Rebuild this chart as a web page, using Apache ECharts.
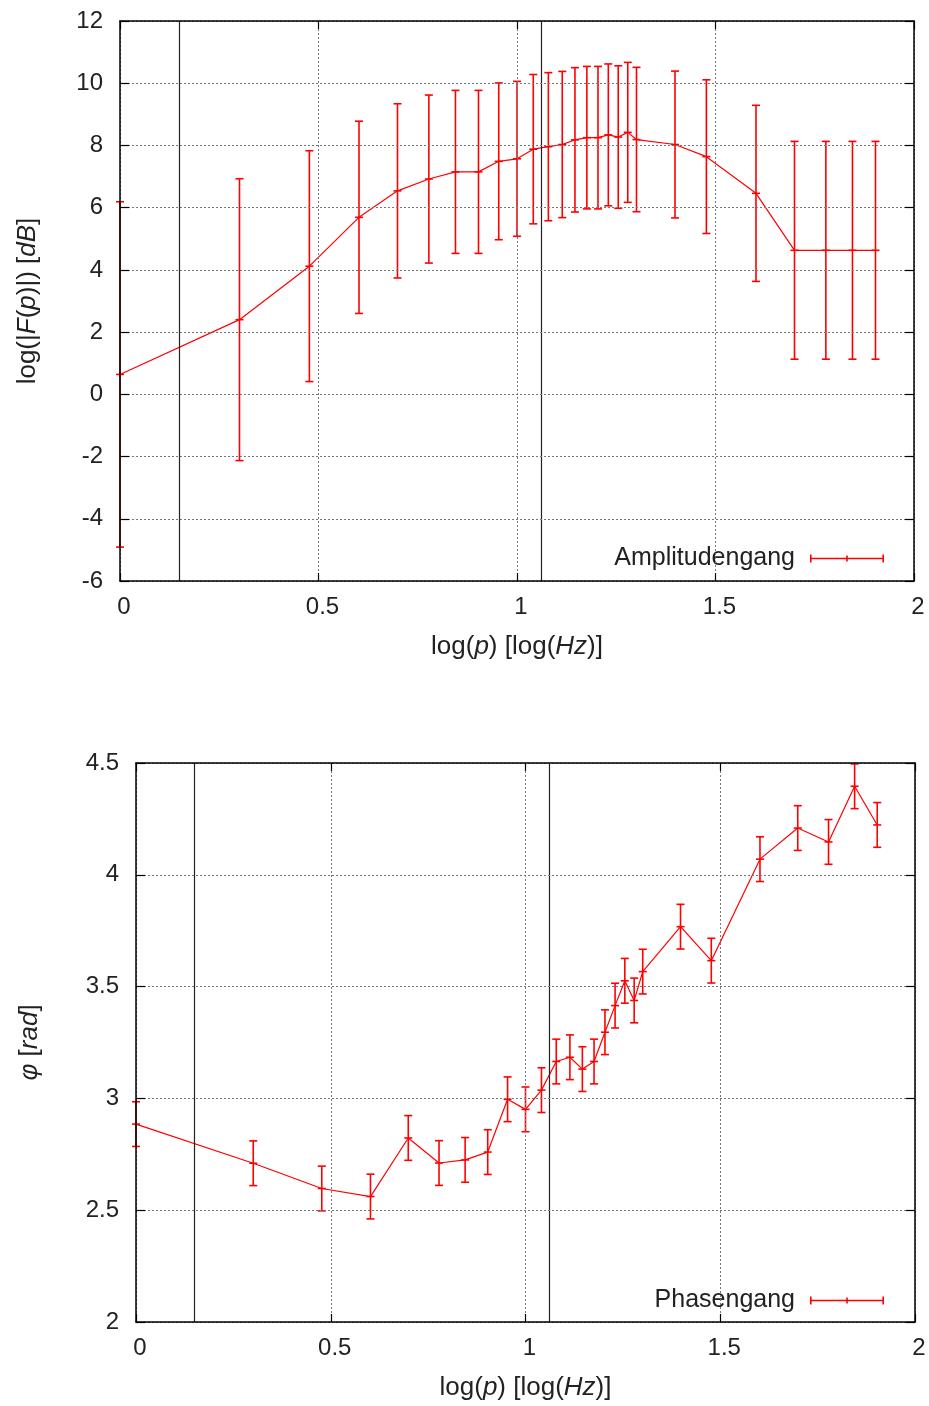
<!DOCTYPE html>
<html>
<head>
<meta charset="utf-8">
<script src="https://cdn.jsdelivr.net/npm/echarts@6/dist/echarts.min.js"></script>
<style>
html, body { margin: 0; padding: 0; background: #fff; }
#chart { width: 929px; height: 1406px; }
</style>
</head>
<body>
<div id="chart"></div>
<script>
// log(p) der Messpunkte
var logFreq = [0, 0.301, 0.477, 0.602, 0.699, 0.778, 0.845, 0.903, 0.954, 1.0,
  1.041, 1.079, 1.114, 1.146, 1.176, 1.204, 1.230, 1.255, 1.279, 1.301,
  1.398, 1.477, 1.602, 1.699, 1.778, 1.845, 1.903];

// Amplitudengang [dB] und Fehler
var ampMean = [0.64, 2.40, 4.12, 5.69, 6.54, 6.92, 7.15, 7.15, 7.49, 7.57,
  7.88, 7.96, 8.03, 8.18, 8.25, 8.25, 8.34, 8.27, 8.42, 8.19,
  8.03, 7.64, 6.46, 4.63, 4.63, 4.63, 4.63];
var ampErr = [5.55, 4.53, 3.71, 3.09, 2.80, 2.70, 2.62, 2.62, 2.52, 2.49,
  2.40, 2.38, 2.35, 2.32, 2.29, 2.29, 2.28, 2.29, 2.25, 2.32,
  2.36, 2.47, 2.83, 3.50, 3.50, 3.50, 3.50];

// Phasengang [rad] und Fehler
var phaseMean = [2.885, 2.71, 2.597, 2.561, 2.823, 2.711, 2.725, 2.76, 2.996, 2.951,
  3.037, 3.165, 3.184, 3.131, 3.165, 3.296, 3.415, 3.526, 3.438, 3.567,
  3.768, 3.616, 4.07, 4.209, 4.147, 4.396, 4.223];
var phaseErr = [0.1, 0.1, 0.1, 0.1, 0.1, 0.1, 0.1, 0.1, 0.1, 0.1,
  0.1, 0.1, 0.1, 0.1, 0.1, 0.1, 0.1, 0.1, 0.1, 0.1,
  0.1, 0.1, 0.1, 0.1, 0.1, 0.1, 0.1];

// senkrechte Linien (Grenzfrequenzen)
var cutoffs = [0.148, 1.059];

var FONT = '"Liberation Sans", Arial, sans-serif';
var TXT = '#222';
var RED = '#ff0000';

var chart = echarts.init(document.getElementById('chart'));

// Fehlerbalken mit Kappen und "+" am Messpunkt
function renderErr(params, api) {
  var x = api.value(0), y = api.value(1), e = api.value(2);
  var hi = api.coord([x, y + e]);
  var lo = api.coord([x, y - e]);
  var c = api.coord([x, y]);
  var s = { stroke: RED, lineWidth: 1.6 };
  var w = 4;
  return {
    type: 'group',
    children: [
      { type: 'line', shape: { x1: hi[0], y1: hi[1], x2: lo[0], y2: lo[1] }, style: s },
      { type: 'line', shape: { x1: hi[0] - w, y1: hi[1], x2: hi[0] + w, y2: hi[1] }, style: s },
      { type: 'line', shape: { x1: lo[0] - w, y1: lo[1], x2: lo[0] + w, y2: lo[1] }, style: s },
      { type: 'line', shape: { x1: c[0] - w, y1: c[1], x2: c[0] + w, y2: c[1] }, style: s }
    ]
  };
}

var legendIcon = 'path://M0,3.2h74v1.6h-74z M0,0h1.6v8h-1.6z M72.4,0h1.6v8h-1.6z M36.2,1h1.6v6h-1.6z';

var rich = {
  i: { fontStyle: 'italic', fontFamily: FONT, fontSize: 26, color: TXT }
};

// Rahmen und Gitter liegen wie bei gnuplot vor den Daten
function xAxisMain(grid, name) {
  return {
    gridIndex: grid, type: 'value', min: 0, max: 2, interval: 0.5,
    position: 'bottom', z: 6,
    name: name, nameLocation: 'middle', nameGap: 53,
    nameTextStyle: { fontFamily: FONT, fontSize: 26, color: TXT, rich: rich },
    axisLine: { onZero: false, lineStyle: { color: '#000', width: 1.5 } },
    axisTick: { inside: true, length: 8, lineStyle: { color: '#000', width: 1.2 } },
    axisLabel: { margin: 14, fontFamily: FONT, fontSize: 24, color: TXT, padding: [0, 0, 0, 8] },
    splitLine: { show: true, lineStyle: { color: '#777', width: 1, type: [2, 2] } }
  };
}
function xAxisMirror(grid) {
  return {
    gridIndex: grid, type: 'value', min: 0, max: 2, interval: 0.5, position: 'top', z: 6,
    axisLine: { onZero: false, lineStyle: { color: '#000', width: 1.5 } },
    axisTick: { inside: true, length: 8, lineStyle: { color: '#000', width: 1.2 } },
    axisLabel: { show: false }, splitLine: { show: false }
  };
}
function yAxisMain(grid, min, max, step, name, gap) {
  return {
    gridIndex: grid, type: 'value', min: min, max: max, interval: step, position: 'left', z: 6,
    name: name, nameLocation: 'middle', nameGap: gap,
    nameTextStyle: { fontFamily: FONT, fontSize: 26, color: TXT, rich: rich },
    axisLine: { onZero: false, lineStyle: { color: '#000', width: 1.5 } },
    axisTick: { inside: true, length: 9, lineStyle: { color: '#000', width: 1.2 } },
    axisLabel: { margin: 17, fontFamily: FONT, fontSize: 24, color: TXT },
    splitLine: { show: true, lineStyle: { color: '#777', width: 1, type: [2, 2] } }
  };
}
function yAxisMirror(grid, min, max, step) {
  return {
    gridIndex: grid, type: 'value', min: min, max: max, interval: step, position: 'right', z: 6,
    axisLine: { onZero: false, lineStyle: { color: '#000', width: 1.5 } },
    axisTick: { inside: true, length: 9, lineStyle: { color: '#000', width: 1.2 } },
    axisLabel: { show: false }, splitLine: { show: false }
  };
}

function cutoffLines() {
  return {
    silent: true, symbol: 'none', label: { show: false },
    lineStyle: { color: '#222', width: 1.2, type: 'solid' },
    data: cutoffs.map(function (v) { return { xAxis: v }; })
  };
}

function legendFor(name, top) {
  return {
    data: [{ name: name, icon: legendIcon }],
    right: 45, top: top, align: 'right', orient: 'vertical', padding: 0,
    itemWidth: 74, itemHeight: 8, selectedMode: false,
    itemStyle: { borderWidth: 0 },
    textStyle: { fontFamily: FONT, fontSize: 25, color: TXT, padding: [0, 10, 0, 0] }
  };
}

var option = {
  animation: false,
  backgroundColor: '#fff',
  grid: [
    { left: 120, top: 21, width: 794, height: 560 },
    { left: 136, top: 763, width: 779, height: 559 }
  ],
  legend: [
    legendFor('Amplitudengang', 546),
    legendFor('Phasengang', 1288)
  ],
  xAxis: [
    xAxisMain(0, 'log({i|p}) [log({i|Hz})]'),
    xAxisMirror(0),
    xAxisMain(1, 'log({i|p}) [log({i|Hz})]'),
    xAxisMirror(1)
  ],
  yAxis: [
    yAxisMain(0, -6, 12, 2, 'log(|{i|F}({i|p})|) [{i|dB}]', 79),
    yAxisMirror(0, -6, 12, 2),
    yAxisMain(1, 2, 4.5, 0.5, '{i|φ} [{i|rad}]', 93),
    yAxisMirror(1, 2, 4.5, 0.5)
  ],
  series: [
    {
      name: 'Amplitudengang', type: 'line', xAxisIndex: 0, yAxisIndex: 0,
      symbol: 'none', color: RED,
      lineStyle: { color: RED, width: 1.2 },
      data: logFreq.map(function (x, i) { return [x, ampMean[i]]; }),
      markLine: cutoffLines(), z: 3
    },
    {
      name: 'Amplitudengang', type: 'custom', xAxisIndex: 0, yAxisIndex: 0,
      renderItem: renderErr, encode: { x: 0, y: 1 }, color: RED,
      data: logFreq.map(function (x, i) { return [x, ampMean[i], ampErr[i]]; }), z: 4
    },
    {
      name: 'Phasengang', type: 'line', xAxisIndex: 2, yAxisIndex: 2,
      symbol: 'none', color: RED,
      lineStyle: { color: RED, width: 1.2 },
      data: logFreq.map(function (x, i) { return [x, phaseMean[i]]; }),
      markLine: cutoffLines(), z: 3
    },
    {
      name: 'Phasengang', type: 'custom', xAxisIndex: 2, yAxisIndex: 2,
      renderItem: renderErr, encode: { x: 0, y: 1 }, color: RED,
      data: logFreq.map(function (x, i) { return [x, phaseMean[i], phaseErr[i]]; }), z: 4
    }
  ]
};

chart.setOption(option);
</script>
</body>
</html>
